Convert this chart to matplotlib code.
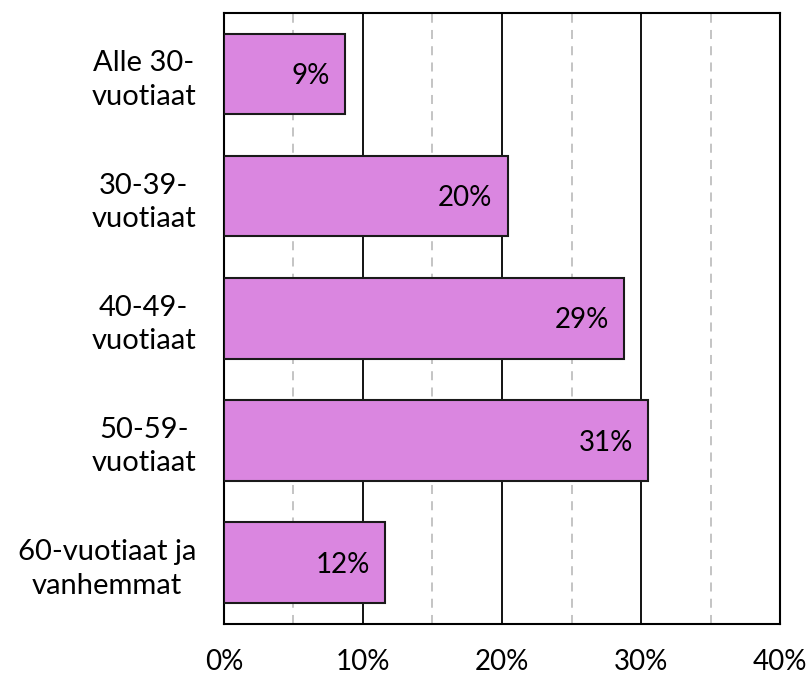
import matplotlib.pyplot as plt
import numpy as np

plt.rcParams['font.family'] = ['Lato', 'DejaVu Sans']

groups = ['Alle 30-\nvuotiaat', '30-39-\nvuotiaat', '40-49-\nvuotiaat',
          '50-59-\nvuotiaat', '60-vuotiaat ja\nvanhemmat']
values = [8.7, 20.4, 28.8, 30.5, 11.6]
labels = ['9%', '20%', '29%', '31%', '12%']

fig = plt.figure(figsize=(8.11, 6.78), dpi=100)
ax = fig.add_axes([0.276, 0.080, 0.686, 0.901])

y = np.arange(len(groups))
ax.barh(y, values, height=0.66, color='#DA86E0', edgecolor='#1a1a1a', linewidth=1.5, zorder=3)

for xv in [5, 15, 25, 35]:
    ax.axvline(xv, color='#bfbfbf', linestyle=(0, (5, 4)), linewidth=1.3, zorder=1)
for xv in [10, 20, 30]:
    ax.axvline(xv, color='black', linewidth=1.3, zorder=1)

for yi, v, lab in zip(y, values, labels):
    ax.annotate(lab, (v, yi), xytext=(-11, -1.5), textcoords='offset points',
                ha='right', va='center', fontsize=20, zorder=4)

ax.set_xlim(0, 40)
ax.set_ylim(4.5, -0.5)
ax.set_xticks([0, 10, 20, 30, 40])
ax.set_xticklabels(['0%', '10%', '20%', '30%', '40%'], fontsize=20)
ax.set_yticks(y)
ax.set_yticklabels(groups, fontsize=21, ha='right', multialignment='center', linespacing=1.35)
ax.tick_params(axis='both', length=0)
ax.tick_params(axis='x', pad=18)
ax.tick_params(axis='y', pad=20)
for s in ax.spines.values():
    s.set_linewidth(1.5)

plt.savefig('out.png', dpi=100)
